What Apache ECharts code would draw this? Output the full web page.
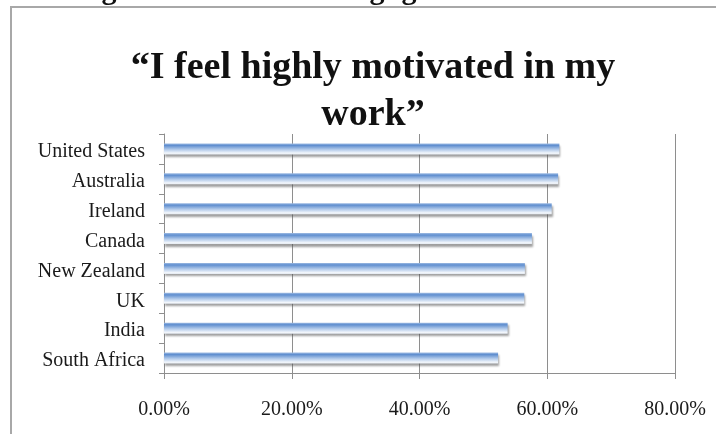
<!DOCTYPE html>
<html>
<head>
<meta charset="utf-8">
<script src="https://cdn.jsdelivr.net/npm/echarts@6/dist/echarts.min.js"></script>
<style>
  html, body { margin: 0; padding: 0; background: #ffffff; }
  #chart { width: 716px; height: 434px; }
</style>
</head>
<body>
<div id="chart"></div>
<script>
// Share of respondents agreeing with the statement, by country
const countries = ['United States', 'Australia', 'Ireland', 'Canada', 'New Zealand', 'UK', 'India', 'South Africa'];
const motivatedPct = [61.9, 61.7, 60.7, 57.6, 56.5, 56.4, 53.8, 52.3];
const pctTicks = [0, 20, 40, 60, 80];
const titleLines = ['\u201cI feel highly motivated in my', 'work\u201d'];

const chart = echarts.init(document.getElementById('chart'), null, { renderer: 'canvas' });

const serif = '"Liberation Serif", serif';
const gridGray = '#8e8e8e';
const titleFont = 'bold 38px "Liberation Serif", serif';

const barFill = new echarts.graphic.LinearGradient(0, 0, 0, 1, [
  { offset: 0.0, color: '#9fbce3' },
  { offset: 0.18, color: '#5f8ecf' },
  { offset: 0.55, color: '#b2caea' },
  { offset: 0.88, color: '#f3f7fc' },
  { offset: 1.0, color: '#e2e8f0' }
]);

function descender(x) {
  return { type: 'text', x: x, y: -24,
    style: { text: 'g', font: 'bold 30px "Liberation Serif", serif', fill: '#111', textAlign: 'center', textVerticalAlign: 'top' } };
}

chart.setOption({
  animation: false,
  backgroundColor: '#ffffff',
  graphic: [
    // chart frame
    { type: 'rect', shape: { x: 11, y: 7, width: 900, height: 600 },
      style: { fill: 'none', stroke: '#a8a8a8', lineWidth: 2 }, z: 0 },
    // descenders of the line of text above the frame
    descender(109), descender(377), descender(409),
    // title
    { type: 'text', x: 373, y: 68, style: { text: titleLines[0], font: titleFont, fill: '#111', textAlign: 'center', textVerticalAlign: 'middle' } },
    { type: 'text', x: 373, y: 115, style: { text: titleLines[1], font: titleFont, fill: '#111', textAlign: 'center', textVerticalAlign: 'middle' } }
  ],
  grid: { left: 164, right: 41, top: 134, bottom: 61, containLabel: false, outerBoundsMode: 'none' },
  xAxis: {
    type: 'value',
    min: pctTicks[0], max: pctTicks[pctTicks.length - 1], interval: pctTicks[1] - pctTicks[0],
    axisLine: { show: true, lineStyle: { color: gridGray, width: 1 } },
    axisTick: { show: true, length: 6, lineStyle: { color: gridGray } },
    splitLine: { show: true, lineStyle: { color: gridGray, width: 1 } },
    axisLabel: {
      margin: 27,
      fontFamily: serif, fontSize: 20, color: '#1a1a1a',
      formatter: v => v.toFixed(2) + '%'
    }
  },
  yAxis: {
    type: 'category',
    data: countries,
    inverse: true,
    axisLine: { show: true, lineStyle: { color: gridGray, width: 1 } },
    axisTick: { show: true, length: 5, lineStyle: { color: gridGray } },
    splitLine: { show: false },
    axisLabel: {
      margin: 19,
      formatter: name => '{c|' + name + '}',
      rich: { c: { padding: [6, 0, 0, 0], fontFamily: serif, fontSize: 20, color: '#1a1a1a' } }
    }
  },
  series: [{
    type: 'bar',
    data: motivatedPct,
    barWidth: 11,
    itemStyle: {
      color: barFill,
      shadowColor: 'rgba(80,80,80,0.55)',
      shadowBlur: 2,
      shadowOffsetY: 2.5,
      shadowOffsetX: 1
    }
  }]
});
</script>
</body>
</html>
